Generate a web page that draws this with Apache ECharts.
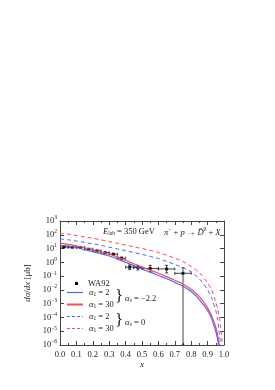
<!DOCTYPE html>
<html><head><meta charset="utf-8">
<script src="https://cdn.jsdelivr.net/npm/echarts@6/dist/echarts.min.js"></script>
<style>html,body{margin:0;padding:0;background:#fff}#c{width:275px;height:390px}</style>
</head><body><div id="c"></div>
<script>
// ---- data ----
const curveX       = [0, 0.05, 0.1, 0.15, 0.2, 0.25, 0.3, 0.35, 0.4, 0.45, 0.5, 0.55, 0.6, 0.65, 0.7, 0.75, 0.8, 0.85, 0.9, 0.925, 0.95, 0.96, 0.97, 0.98, 0.99];
const blueSolid    = [18.2, 14.8, 11.5, 8.3, 5.9, 4.2, 2.9, 1.8, 1.02, 0.58, 0.32, 0.195, 0.112, 0.065, 0.035, 0.0186, 0.0076, 0.002, 3.2e-4, 7.9e-5, 1.0e-5, 3.2e-6, 5e-7, 4e-8, 1e-9];
const redSolid     = [25.1, 20.4, 15.8, 11.5, 7.9, 5.6, 4.0, 2.5, 1.4, 0.79, 0.45, 0.27, 0.16, 0.091, 0.05, 0.027, 0.011, 0.0032, 5.0e-4, 1.26e-4, 2.0e-5, 6.3e-6, 1.26e-6, 1e-7, 1e-9];
const blueDashed   = [50, 43, 35, 28, 22, 17, 12.6, 9.5, 7.1, 5.2, 3.8, 2.7, 1.9, 1.17, 0.71, 0.4, 0.2, 0.063, 0.01, 2.5e-3, 3.2e-4, 7.9e-5, 1e-5, 6.3e-7, 1e-9];
const redDashed    = [132, 110, 89, 71, 56, 43, 32, 24, 17.8, 13.5, 10, 7.4, 5.2, 3.3, 2.0, 1.12, 0.5, 0.178, 0.032, 0.01, 1.26e-3, 5e-4, 1.26e-4, 2e-5, 1e-6];

const wa92X     = [0.025, 0.075, 0.125, 0.175, 0.225, 0.275, 0.325, 0.375, 0.425, 0.475, 0.55, 0.65, 0.75];
const wa92XErr  = [0.025, 0.025, 0.025, 0.025, 0.025, 0.025, 0.025, 0.025, 0.025, 0.025, 0.05, 0.05, 0.05];
const wa92Y     = [13, 12.5, 12, 9, 6.8, 5, 3.9, 2.0, 0.45, 0.42, 0.36, 0.33, 0.16];
const wa92YLow  = [11.8, 11.3, 10.8, 8.1, 6.1, 4.5, 3.4, 1.7, 0.3, 0.28, 0.2, 0.17, 1e-6];
const wa92YHigh = [14.2, 13.7, 13.2, 9.9, 7.5, 5.5, 4.4, 2.3, 0.65, 0.6, 0.6, 0.6, 0.4];

const xTickLabels = ['0.0','0.1','0.2','0.3','0.4','0.5','0.6','0.7','0.8','0.9','1.0'];

// ---- style ----
const FONT = "'Liberation Serif', 'Times New Roman', serif";
const BLUE = '#4a68ff';
const RED = '#ff4a4a';
const AX = '#444';
const TXT = '#222';

const chart = echarts.init(document.getElementById('c'), null, {renderer: 'canvas'});

function pairs(xs, ys) { return xs.map((x, i) => [x, ys[i]]); }

const supRich = {
  b: {fontFamily: FONT, fontSize: 8.5, color: TXT},
  s: {fontFamily: FONT, fontSize: 5.5, color: TXT, padding: [0, 0, 6, 0]}
};

function xAxisBase(pos, showLabel) {
  return {
    type: 'value', min: 0, max: 1, interval: 0.1, position: pos,
    axisLine: {show: true, onZero: false, lineStyle: {color: AX, width: 1}},
    axisTick: {show: true, inside: true, length: 4, lineStyle: {color: AX}},
    minorTick: {show: true, splitNumber: 2, length: 2, lineStyle: {color: AX}},
    splitLine: {show: false},
    axisLabel: {show: showLabel, margin: 5, fontFamily: FONT, fontSize: 8.5, color: TXT,
      formatter: v => xTickLabels[Math.round(v * 10)]}
  };
}
function yAxisBase(pos, showLabel) {
  return {
    type: 'log', logBase: 10, min: 1e-6, max: 1e3, interval: 1, position: pos,
    axisLine: {show: true, onZero: false, lineStyle: {color: AX, width: 1}},
    axisTick: {show: true, inside: true, length: 4, lineStyle: {color: AX}},
    minorTick: {show: false},
    splitLine: {show: false},
    axisLabel: {show: showLabel, margin: 3, rich: supRich,
      formatter: v => { const e = Math.round(Math.log10(v)); return '{b|10}{s|' + (e < 0 ? '−' + (-e) : e) + '}'; }}
  };
}

const xb = xAxisBase('bottom', true);
xb.name = 'x';
xb.nameLocation = 'middle';
xb.nameGap = 14;
xb.nameTextStyle = {fontFamily: FONT, fontStyle: 'italic', fontSize: 9, color: TXT};

const yl = yAxisBase('left', true);
yl.name = '{i|dσ}/{i|dx} [μb]';
yl.nameLocation = 'middle';
yl.nameGap = 18;
yl.nameRotate = 90;
yl.nameTextStyle = {fontFamily: FONT, fontSize: 9, color: TXT,
  rich: {i: {fontFamily: FONT, fontStyle: 'italic', fontSize: 9, color: TXT}}};

function lineSeries(data, color, dashed, width) {
  return {
    type: 'line', data: pairs(curveX, data), xAxisIndex: 0, yAxisIndex: 0,
    showSymbol: false, smooth: 0.3, clip: true, silent: true,
    lineStyle: {color: color, width: width, type: dashed ? [4, 3] : 'solid'}
  };
}

const errData = wa92X.map((x, i) => [x, wa92Y[i], wa92XErr[i], wa92YLow[i], wa92YHigh[i]]);

const itRich = {
  i: {fontFamily: FONT, fontStyle: 'italic', fontSize: 8.5, fill: TXT},
  n: {fontFamily: FONT, fontSize: 8.5, fill: TXT},
  sub: {fontFamily: FONT, fontSize: 5.5, fill: TXT, padding: [5, 0, 0, 0]},
  subi: {fontFamily: FONT, fontStyle: 'italic', fontSize: 5.5, fill: TXT, padding: [5, 0, 0, 0]},
  sup: {fontFamily: FONT, fontSize: 5.5, fill: TXT, padding: [0, 0, 5, 0]}
};
function rtext(left, top, text) {
  return {type: 'text', left: left, top: top, style: {text: text, fill: TXT, font: '8.5px ' + FONT, rich: itRich}};
}

const option = {
  animation: false,
  backgroundColor: '#fff',
  grid: {left: 60, right: 51, top: 221, bottom: 45, containLabel: false},
  xAxis: [xb, xAxisBase('top', false)],
  yAxis: [yl, yAxisBase('right', false)],
  series: [
    lineSeries(redDashed, RED, true, 1),
    lineSeries(blueDashed, BLUE, true, 1),
    lineSeries(redSolid, RED, false, 1.2),
    lineSeries(blueSolid, BLUE, false, 1.2),
    {
      type: 'custom', xAxisIndex: 0, yAxisIndex: 0, clip: true, silent: true,
      data: errData,
      renderItem: function (params, api) {
        const x = api.value(0), y = api.value(1), xe = api.value(2), lo = api.value(3), hi = api.value(4);
        const l = api.coord([x - xe, y]);
        const r = api.coord([x + xe, y]);
        const t = api.coord([x, hi]);
        const b = api.coord([x, lo]);
        const st = {stroke: '#111', lineWidth: 0.8};
        const cap = 1.5;
        return {type: 'group', children: [
          {type: 'line', shape: {x1: l[0], y1: l[1], x2: r[0], y2: r[1]}, style: st},
          {type: 'line', shape: {x1: l[0], y1: l[1] - cap, x2: l[0], y2: l[1] + cap}, style: st},
          {type: 'line', shape: {x1: r[0], y1: r[1] - cap, x2: r[0], y2: r[1] + cap}, style: st},
          {type: 'line', shape: {x1: t[0], y1: t[1], x2: b[0], y2: b[1]}, style: st},
          {type: 'line', shape: {x1: t[0] - cap, y1: t[1], x2: t[0] + cap, y2: t[1]}, style: st},
          {type: 'line', shape: {x1: b[0] - cap, y1: b[1], x2: b[0] + cap, y2: b[1]}, style: st}
        ]};
      }
    },
    {
      type: 'scatter', xAxisIndex: 0, yAxisIndex: 0, silent: true,
      data: pairs(wa92X, wa92Y), symbol: 'rect', symbolSize: 3,
      itemStyle: {color: '#000'}
    }
  ],
  graphic: [
    rtext(103, 227, '{i|E}{sub|lab}{n| = 350 GeV}'),
    rtext(164, 227, '{i|π}{sup|−}{n| + }{i|p}{n| → }{i|D̄}{sup|0}{n| + }{i|X}'),
    // legend
    {type: 'rect', shape: {x: 75, y: 282, width: 3, height: 3}, style: {fill: '#000'}},
    rtext(88, 279, '{n|WA92}'),
    {type: 'line', shape: {x1: 67, y1: 292.5, x2: 83, y2: 292.5}, style: {stroke: BLUE, lineWidth: 1.2}},
    {type: 'line', shape: {x1: 67, y1: 304.5, x2: 83, y2: 304.5}, style: {stroke: RED, lineWidth: 2}},
    {type: 'line', shape: {x1: 67, y1: 316.5, x2: 83, y2: 316.5}, style: {stroke: BLUE, lineWidth: 1, lineDash: [3, 2]}},
    {type: 'line', shape: {x1: 67, y1: 328.5, x2: 83, y2: 328.5}, style: {stroke: RED, lineWidth: 1, lineDash: [3, 2]}},
    rtext(89, 288, '{i|α}{sub|1}{n| = 2}'),
    rtext(89, 300, '{i|α}{sub|1}{n| = 30}'),
    rtext(89, 312, '{i|α}{sub|1}{n| = 2}'),
    rtext(89, 324, '{i|α}{sub|1}{n| = 30}'),
    {type: 'text', left: 115, top: 288, style: {text: '}', fill: TXT, font: '17px ' + FONT}},
    {type: 'text', left: 115, top: 312, style: {text: '}', fill: TXT, font: '17px ' + FONT}},
    rtext(125, 294, '{i|α}{subi|v}{n| = −2.2}'),
    rtext(125, 318, '{i|α}{subi|v}{n| = 0}')
  ]
};
chart.setOption(option);
</script></body></html>
